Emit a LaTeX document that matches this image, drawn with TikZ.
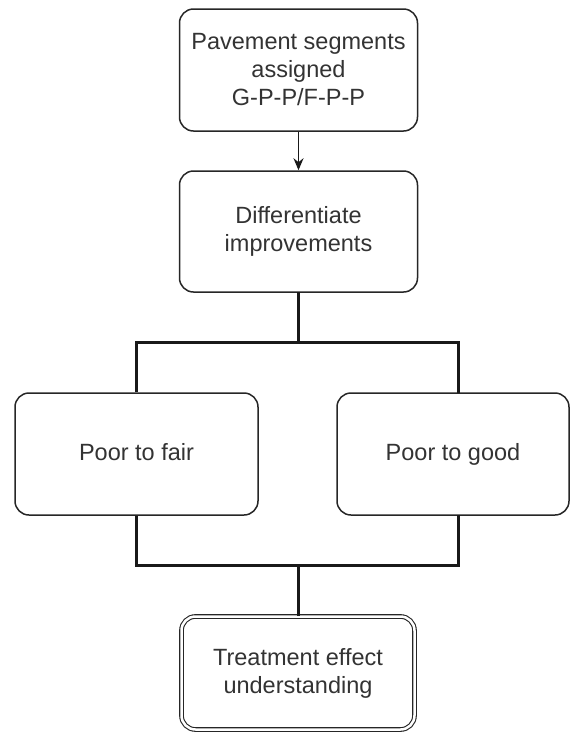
\documentclass[tikz,border=0pt]{standalone}
\usepackage{fontspec}
\setmainfont{Liberation Sans}
\usetikzlibrary{arrows.meta,calc}
\definecolor{txt}{HTML}{333333}
\tikzset{
  box/.style={draw=black!85, line width=1.5pt, rounded corners=14pt, fill=white,
    align=center, text=txt, inner sep=0pt,
    font=\fontsize{23.5}{28}\selectfont},
  oneline/.style={text height=17pt, text depth=5pt},
  dbox/.style={box, double=white, double distance=2.5pt, line width=1.1pt},
  bracket/.style={draw=black!90, line width=3pt},
  arr/.style={draw=black!90, line width=1.5pt, -{Stealth[length=12pt,width=10pt]}}
}
\begin{document}
\begin{tikzpicture}[x=1pt,y=-1pt]
\useasboundingbox (0,0) rectangle (571,732);
\node[box, minimum width=238pt, minimum height=122pt] (a) at (298.5,70) {Pavement segments\\assigned\\G-P-P/F-P-P};
\node[box, minimum width=238pt, minimum height=121pt] (d) at (298.5,231.5) {Differentiate\\improvements};
\node[box, oneline, minimum width=243pt, minimum height=122pt] (l) at (136.5,454) {Poor to fair};
\node[box, oneline, minimum width=232pt, minimum height=122pt] (r) at (453,454) {Poor to good};
\node[dbox, minimum width=233pt, minimum height=113pt] (t) at (298,673) {Treatment effect\\understanding};
\coordinate (j1) at (298,342);
\coordinate (rt) at (458,393);
\coordinate (rb) at (458,515);
\coordinate (j2) at (298,565);
\draw[arr] (a.south) -- (d.north);
\draw[bracket] (298,292) -- (j1);
\draw[bracket] (l.north) |- (j1) -| (rt);
\draw[bracket] (l.south) |- (j2) -| (rb);
\draw[bracket] (j2) -- (t.north);
\end{tikzpicture}
\end{document}
